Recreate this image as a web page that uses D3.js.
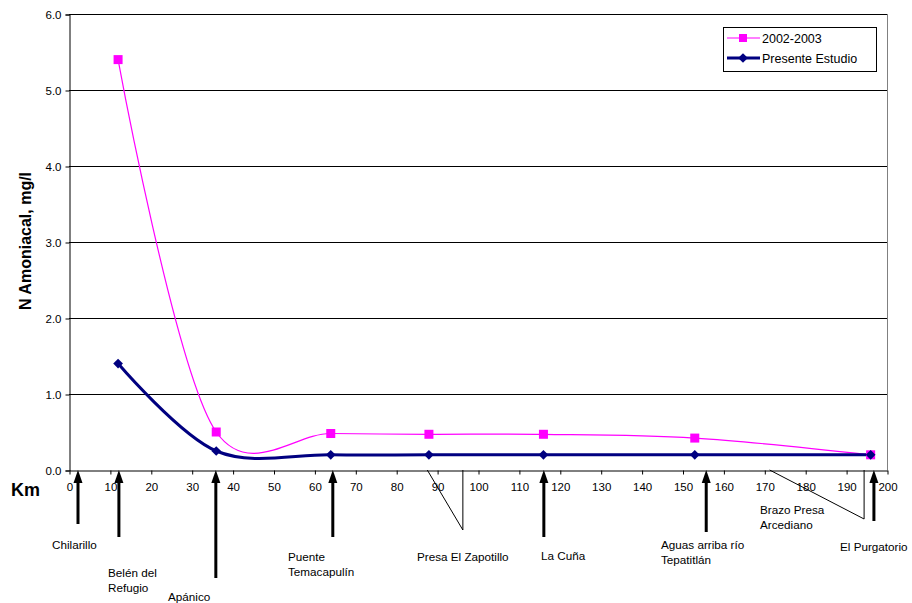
<!DOCTYPE html>
<html><head><meta charset="utf-8">
<script src="https://cdn.jsdelivr.net/npm/d3@7"></script>
<style>body{margin:0;background:#fff}text{font-family:Arial,"Liberation Sans",sans-serif}</style>
</head><body><svg id="c" width="912" height="603"></svg>
<script>
const kmPoints = [12, 36, 64, 88, 116, 153, 196];
const series2002 = [5.4, 0.5, 0.48, 0.47, 0.47, 0.42, 0.2];
const seriesPresente = [1.4, 0.25, 0.2, 0.2, 0.2, 0.2, 0.2];
const seriesNames = ["2002-2003", "Presente Estudio"];
const yTicks = [0, 1, 2, 3, 4, 5, 6];
const xTicks = d3.range(0, 201, 10);
// site annotations (arrows): km, label lines
const arrowSites = [
  {km: 2.2, len: 54, lines: ["Chilarillo"], lx: 52, ly: 549},
  {km: 12.2, len: 67, lines: ["Belén del", "Refugio"], lx: 108, ly: 577},
  {km: 35.9, len: 108, lines: ["Apánico"], lx: 168, ly: 601},
  {km: 64.5, len: 67, lines: ["Puente", "Temacapulín"], lx: 288, ly: 561},
  {km: 116.1, len: 67, lines: ["La Cuña"], lx: 541, ly: 560},
  {km: 155.8, len: 62, lines: ["Aguas arriba río", "Tepatitlán"], lx: 661, ly: 549},
  {km: 196.8, len: 51, lines: ["El  Purgatorio"], lx: 840, ly: 551}
];
// callout sites (thin lines): start km on axis, corner km, corner depth
const calloutSites = [
  {km0: 87.6, km1: 96.3, depth: 60, lines: ["Presa El Zapotillo"], lx: 417, ly: 561},
  {km0: 171.3, km1: 194.4, depth: 49, lines: ["Brazo Presa", "Arcediano"], lx: 760, ly: 514}
];

const svg = d3.select("#c");
const x = d3.scaleLinear().domain([0, 200]).range([69, 887]);
const y = d3.scaleLinear().domain([0, 6]).range([470, 14]);

// gridlines
svg.append("g").selectAll("line").data(yTicks.filter(d => d > 0)).join("line")
  .attr("x1", x(0)).attr("x2", x(200)).attr("y1", d => Math.round(y(d)) + 0.5).attr("y2", d => Math.round(y(d)) + 0.5)
  .attr("stroke", "#000").attr("stroke-width", 1);
// right border
svg.append("line").attr("x1", x(200) + 0.5).attr("x2", x(200) + 0.5).attr("y1", y(6)).attr("y2", y(0))
  .attr("stroke", "#808080");

// y axis
const yAxis = svg.append("g").attr("transform", `translate(${x(0) + 0.5},0.5)`)
  .call(d3.axisLeft(y).tickValues(yTicks).tickFormat(d3.format(".1f")).tickSize(4).tickPadding(4));
yAxis.select(".domain").attr("stroke", "#000");
yAxis.selectAll("text").attr("font-size", 11.5).attr("font-family", "Arial, Liberation Sans, sans-serif").attr("fill", "#000");

// x axis
const xAxis = svg.append("g").attr("transform", `translate(0.5,${y(0) + 0.5})`)
  .call(d3.axisBottom(x).tickValues(xTicks).tickSize(4).tickPadding(8).tickSizeOuter(0));
xAxis.select(".domain").attr("stroke", "#000");
xAxis.selectAll("text").attr("font-size", 11.5).attr("font-family", "Arial, Liberation Sans, sans-serif").attr("fill", "#000");

// titles
svg.append("text").attr("transform", "translate(31,241) rotate(-90)").attr("text-anchor", "middle")
  .attr("font-size", 16).attr("font-weight", "bold").text("N Amoniacal, mg/l");
svg.append("text").attr("x", 11).attr("y", 496).attr("font-size", 18).attr("font-weight", "bold").text("Km");

// lines
const line = d3.line().x((d, i) => x(kmPoints[i])).y(d => y(d)).curve(d3.curveCatmullRom.alpha(0.15));
svg.append("path").datum(series2002).attr("d", line).attr("fill", "none").attr("stroke", "#FF00FF").attr("stroke-width", 1.2);
svg.append("path").datum(seriesPresente).attr("d", line).attr("fill", "none").attr("stroke", "#000080").attr("stroke-width", 3);

// markers
svg.append("g").selectAll("rect").data(series2002).join("rect")
  .attr("x", (d, i) => x(kmPoints[i]) - 4.5).attr("y", d => y(d) - 4.5).attr("width", 9).attr("height", 9).attr("fill", "#FF00FF");
const diamond = d3.symbol().type(d3.symbolDiamond2).size(60);
svg.append("g").selectAll("path").data(seriesPresente).join("path")
  .attr("transform", (d, i) => `translate(${x(kmPoints[i])},${y(d)})`).attr("d", diamond).attr("fill", "#000080");

// arrows
const ag = svg.append("g");
arrowSites.forEach(s => {
  const ax = x(s.km), top = y(0);
  ag.append("line").attr("x1", ax).attr("x2", ax).attr("y1", top + 10).attr("y2", top + s.len).attr("stroke", "#000").attr("stroke-width", 3);
  ag.append("path").attr("d", `M${ax},${top} L${ax - 4.5},${top + 13} L${ax + 4.5},${top + 13} Z`).attr("fill", "#000");
  const t = ag.append("text").attr("x", s.lx).attr("y", s.ly).attr("font-size", 11.7);
  s.lines.forEach((l, i) => t.append("tspan").attr("x", s.lx).attr("dy", i === 0 ? 0 : 15).text(l));
});
calloutSites.forEach(s => {
  const x0 = x(s.km0), x1 = x(s.km1), top = y(0);
  ag.append("path").attr("d", `M${x0},${top} L${x1},${top + s.depth} L${x1},${top}`).attr("fill", "none").attr("stroke", "#000").attr("stroke-width", 1);
  const t = ag.append("text").attr("x", s.lx).attr("y", s.ly).attr("font-size", 11.7);
  s.lines.forEach((l, i) => t.append("tspan").attr("x", s.lx).attr("dy", i === 0 ? 0 : 15).text(l));
});

// legend
const lg = svg.append("g");
lg.append("rect").attr("x", 723.5).attr("y", 27.5).attr("width", 153).attr("height", 44).attr("fill", "#fff").attr("stroke", "#000");
const legendItems = [
  {name: seriesNames[0], color: "#FF00FF", w: 1.2, sym: "sq"},
  {name: seriesNames[1], color: "#000080", w: 3, sym: "di"}
];
legendItems.forEach((it, i) => {
  const ly = 38 + i * 20;
  lg.append("line").attr("x1", 727).attr("x2", 760).attr("y1", ly).attr("y2", ly).attr("stroke", it.color).attr("stroke-width", it.w);
  if (it.sym === "sq") lg.append("rect").attr("x", 739).attr("y", ly - 4).attr("width", 8).attr("height", 8).attr("fill", it.color);
  else lg.append("path").attr("transform", `translate(743,${ly})`).attr("d", diamond).attr("fill", it.color);
  lg.append("text").attr("x", 762).attr("y", ly + 4.5).attr("font-size", 12.5).text(it.name);
});
</script></body></html>
